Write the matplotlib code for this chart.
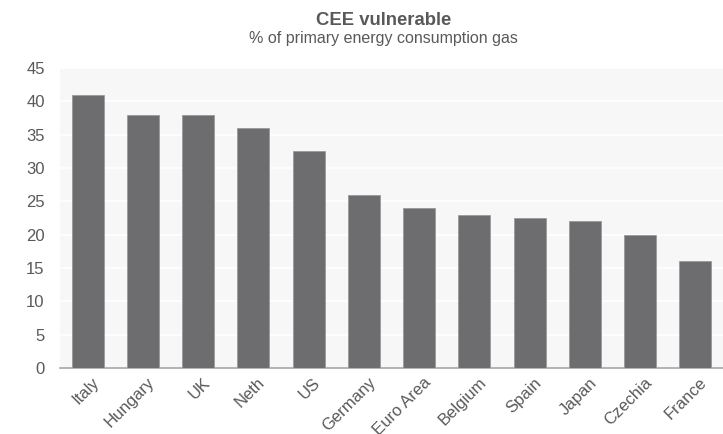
import numpy as np
import matplotlib.pyplot as plt
import matplotlib.transforms as mtransforms

plt.rcParams['font.family'] = ['Liberation Sans', 'DejaVu Sans']

countries = ['Italy', 'Hungary', 'UK', 'Neth', 'US', 'Germany', 'Euro Area',
             'Belgium', 'Spain', 'Japan', 'Czechia', 'France']
gas_share = [41, 38, 38, 36, 32.5, 26, 24, 23, 22.5, 22, 20, 16]

text_col = '#595959'
bar_col = '#6d6d6f'

fig = plt.figure(figsize=(7.23, 4.34), dpi=100)
ax = fig.add_axes([60 / 723, 66 / 434, 663 / 723, 300 / 434])
ax.set_facecolor('#f7f7f7')

x = np.arange(len(countries))
ax.bar(x, gas_share, width=0.58, color=bar_col, edgecolor='#9a9a9a',
       linewidth=0.6, zorder=3)

ax.set_xlim(-0.5, len(countries) - 0.5)
ax.set_ylim(0, 45)
ax.set_yticks(range(0, 46, 5))
ax.grid(axis='y', color='white', linewidth=1.2, zorder=0)
ax.set_axisbelow(True)

for side in ['top', 'right', 'left']:
    ax.spines[side].set_visible(False)
ax.spines['bottom'].set_color('#a6a6a6')
ax.spines['bottom'].set_linewidth(1.2)

ax.set_xticks(x)
ax.set_xticklabels(countries, rotation=45, ha='right', rotation_mode='anchor')
ax.tick_params(axis='both', length=0, colors=text_col)
ax.tick_params(axis='y', labelsize=12, pad=11)
ax.tick_params(axis='x', labelsize=12, pad=5)

# nudge the slanted labels a little to the right of each bar centre
shift = mtransforms.ScaledTranslation(4 / 100, 0, fig.dpi_scale_trans)
for lbl in ax.get_xticklabels():
    lbl.set_transform(lbl.get_transform() + shift)

fig.text(0.53, 0.952, 'CEE vulnerable', ha='center', va='center',
         fontsize=13.3, fontweight='bold', color=text_col)
fig.text(0.53, 0.912, '% of primary energy consumption gas', ha='center',
         va='center', fontsize=11.5, color=text_col)

fig.savefig('out.png', dpi=100, facecolor='white')
